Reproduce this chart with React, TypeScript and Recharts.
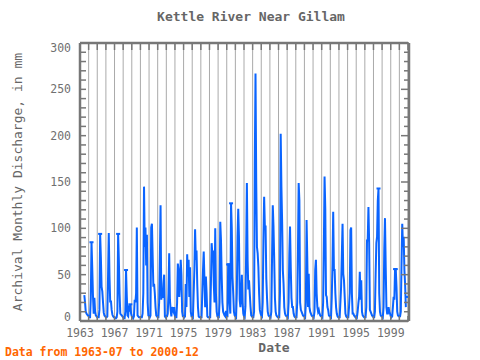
import React from 'react';
import { LineChart, Line, XAxis, YAxis, CartesianGrid } from 'recharts';

// Monthly archival discharge (mm), series starts 1963-07
const startYear = 1963;
const startMonth = 7;
const v1963 = [28, 20, 10, 8, 7, 6];
const v1964 = [5, 4, 4, 25, 85, 58, 28, 8, 25, 10, 6, 5];
const v1965 = [4, 4, 4, 12, 94, 69, 37, 32, 20, 9, 6, 5];
const v1966 = [4, 4, 5, 48, 95, 48, 20, 22, 12, 7, 5, 4];
const v1967 = [4, 3, 3, 4, 10, 94, 66, 30, 8, 7, 6, 5];
const v1968 = [4, 3, 3, 10, 55, 28, 6, 5, 17, 10, 18, 8];
const v1969 = [5, 4, 3, 5, 23, 20, 30, 101, 6, 5, 4, 4];
const v1970 = [4, 4, 4, 8, 30, 145, 80, 101, 60, 93, 20, 6];
const v1971 = [5, 4, 6, 101, 105, 70, 37, 40, 30, 15, 6, 5];
const v1972 = [4, 4, 20, 66, 125, 23, 30, 25, 40, 50, 5, 4];
const v1973 = [5, 5, 8, 30, 73, 23, 12, 5, 15, 12, 10, 15];
const v1974 = [5, 4, 4, 20, 62, 55, 26, 40, 66, 50, 10, 5];
const v1975 = [5, 4, 5, 40, 15, 72, 48, 66, 26, 58, 10, 5];
const v1976 = [5, 4, 30, 55, 99, 66, 76, 40, 15, 5, 4, 4];
const v1977 = [4, 4, 30, 55, 75, 45, 15, 48, 30, 5, 4, 4];
const v1978 = [4, 4, 40, 84, 72, 76, 40, 20, 100, 30, 10, 5];
const v1979 = [4, 4, 20, 107, 87, 48, 20, 10, 8, 6, 5, 11];
const v1980 = [5, 5, 61, 61, 20, 8, 127, 100, 48, 30, 10, 6];
const v1981 = [5, 4, 30, 91, 121, 91, 23, 15, 30, 50, 20, 8];
const v1982 = [5, 4, 16, 75, 149, 66, 34, 44, 30, 16, 6, 5];
const v1983 = [4, 4, 10, 168, 267, 149, 80, 73, 58, 30, 12, 8];
const v1984 = [6, 5, 20, 87, 134, 102, 102, 46, 25, 10, 6, 5];
const v1985 = [5, 4, 10, 69, 125, 102, 66, 25, 10, 6, 5, 4];
const v1986 = [4, 4, 30, 202, 145, 107, 55, 40, 15, 8, 6, 5];
const v1987 = [5, 4, 20, 71, 102, 58, 25, 15, 15, 8, 5, 4];
const v1988 = [4, 4, 20, 75, 149, 130, 20, 12, 10, 8, 6, 5];
const v1989 = [5, 4, 20, 109, 66, 15, 51, 15, 10, 8, 6, 5];
const v1990 = [5, 4, 10, 55, 66, 30, 15, 10, 12, 8, 6, 5];
const v1991 = [5, 4, 20, 80, 156, 121, 28, 26, 15, 12, 6, 5];
const v1992 = [5, 4, 25, 60, 118, 55, 55, 30, 15, 8, 5, 4];
const v1993 = [4, 4, 20, 37, 71, 105, 51, 44, 26, 8, 5, 4];
const v1994 = [4, 4, 15, 30, 98, 101, 30, 8, 8, 6, 5, 4];
const v1995 = [5, 4, 10, 19, 26, 53, 23, 44, 10, 6, 5, 4];
const v1996 = [4, 4, 15, 87, 87, 123, 84, 12, 10, 8, 6, 5];
const v1997 = [4, 4, 10, 51, 84, 91, 130, 143, 30, 10, 6, 5];
const v1998 = [5, 4, 15, 77, 111, 59, 15, 8, 8, 15, 10, 8];
const v1999 = [5, 4, 5, 15, 26, 23, 56, 56, 37, 10, 6, 5];
const v2000 = [5, 5, 10, 62, 105, 80, 91, 55, 39, 15, null, 26];

const yearly: (number | null)[][] = [
  v1963, v1964, v1965, v1966, v1967, v1968, v1969, v1970, v1971, v1972,
  v1973, v1974, v1975, v1976, v1977, v1978, v1979, v1980, v1981, v1982,
  v1983, v1984, v1985, v1986, v1987, v1988, v1989, v1990, v1991, v1992,
  v1993, v1994, v1995, v1996, v1997, v1998, v1999, v2000,
];

// months drawn with a point marker in the reference
const markedMonths = [
  '1964-05', '1965-05', '1967-06', '1968-05', '1968-11',
  '1980-03', '1980-04', '1980-07', '1997-08', '1999-07', '1999-08', '2000-12',
];

const labelYears = [1963, 1967, 1971, 1975, 1979, 1983, 1987, 1991, 1995, 1999];
const gridYears = Array.from({ length: 39 }, (_, k) => 1963 + k);
const yTicks = Array.from({ length: 31 }, (_, k) => k * 10);
const yLabels = [0, 50, 100, 150, 200, 250, 300];
const yGrid = [50, 100, 150, 200, 250];

type Row = { t: number; v: number | null; flag: boolean };
const data: Row[] = [];
yearly.forEach((vals, k) => {
  const year = startYear + k;
  const m0 = k === 0 ? startMonth : 1;
  vals.forEach((v, j) => {
    const month = m0 + j;
    const key = `${year}-${String(month).padStart(2, '0')}`;
    data.push({ t: year + (month - 1) / 12, v, flag: markedMonths.includes(key) });
  });
});

const axisColor = '#777777';
const gridColor = '#aaaaaa';
const lineColor = '#0a64ff';
const textColor = '#707070';
const mono = '"DejaVu Sans Mono", "Liberation Mono", monospace';

const BottomTick = (props: any) => {
  const { x, y, payload } = props;
  const yr = payload.value;
  return (
    <g>
      <line x1={x} x2={x} y1={y} y2={y - 5} stroke={axisColor} strokeWidth={1.5} />
      {labelYears.includes(yr) && (
        <text x={x} y={y + 16} textAnchor="middle" fill={textColor} fontSize={11.5} fontFamily={mono}>
          {yr}
        </text>
      )}
    </g>
  );
};

const TopTick = (props: any) => {
  const { x, y } = props;
  return <line x1={x} x2={x} y1={y} y2={y + 7} stroke={axisColor} strokeWidth={1.5} />;
};

const LeftTick = (props: any) => {
  const { x, y, payload } = props;
  const v = payload.value;
  let cy = y;
  if (v === 300) cy = y + 4.5;
  if (v === 0) cy = y - 4;
  return (
    <g>
      <line x1={x} x2={x + 6} y1={y} y2={y} stroke={axisColor} strokeWidth={1.5} />
      {yLabels.includes(v) && (
        <text x={x - 9} y={cy + 4} textAnchor="end" fill={textColor} fontSize={11.5} fontFamily={mono}>
          {v}
        </text>
      )}
    </g>
  );
};

const RightTick = (props: any) => {
  const { x, y, payload } = props;
  const len = payload.value % 50 === 0 ? 8 : 5;
  return <line x1={x} x2={x - len} y1={y} y2={y} stroke={axisColor} strokeWidth={1.5} />;
};

const FlagDot = (props: any) => {
  const { cx, cy, payload, index } = props;
  if (!payload || !payload.flag || cx == null || cy == null || payload.v == null) {
    return <g key={`n${index}`} />;
  }
  return (
    <g key={`f${index}`}>
      <rect x={cx - 2} y={cy - 1} width={4} height={2} fill={lineColor} />
    </g>
  );
};

export default function App() {
  return (
    <div style={{ position: 'absolute', left: 0, top: 0, width: 480, height: 360, background: '#fff', overflow: 'hidden' }}>
      <LineChart width={480} height={360} data={data} margin={{ top: 42, right: 70, bottom: 19, left: 0 }}>
        <CartesianGrid stroke={gridColor} strokeWidth={1} yAxisId="g" />
        <XAxis
          dataKey="t"
          type="number"
          domain={[1963, 2001]}
          ticks={gridYears}
          interval={0}
          height={20}
          tickSize={0}
          tickMargin={0}
          tickLine={false}
          tick={<BottomTick />}
          axisLine={{ stroke: axisColor, strokeWidth: 2.5 }}
          allowDataOverflow
        />
        <XAxis
          xAxisId="top"
          orientation="top"
          dataKey="t"
          type="number"
          domain={[1963, 2001]}
          ticks={gridYears}
          interval={0}
          height={1}
          tickSize={0}
          tickMargin={0}
          tickLine={false}
          tick={<TopTick />}
          axisLine={{ stroke: axisColor, strokeWidth: 2.5 }}
          allowDataOverflow
        />
        <YAxis
          type="number"
          domain={[0, 300]}
          ticks={yTicks}
          interval={0}
          width={80}
          tickSize={0}
          tickMargin={0}
          tickLine={false}
          tick={<LeftTick />}
          axisLine={{ stroke: axisColor, strokeWidth: 2.5 }}
          allowDataOverflow
        />
        <YAxis
          yAxisId="r"
          orientation="right"
          type="number"
          domain={[0, 300]}
          ticks={yTicks}
          interval={0}
          width={1}
          tickSize={0}
          tickMargin={0}
          tickLine={false}
          tick={<RightTick />}
          axisLine={{ stroke: axisColor, strokeWidth: 2.5 }}
          allowDataOverflow
        />
        <YAxis
          yAxisId="g"
          orientation="right"
          type="number"
          domain={[0, 300]}
          ticks={yGrid}
          interval={0}
          width={1}
          tick={false}
          tickLine={false}
          axisLine={false}
          allowDataOverflow
        />
        <Line xAxisId="top" yAxisId="r" dataKey="v" stroke="none" dot={false} activeDot={false} isAnimationActive={false} legendType="none" />
        <Line yAxisId="g" dataKey="v" stroke="none" dot={false} activeDot={false} isAnimationActive={false} legendType="none" />
        <Line
          type="linear"
          dataKey="v"
          stroke={lineColor}
          strokeWidth={2}
          dot={FlagDot}
          activeDot={false}
          connectNulls={false}
          isAnimationActive={false}
        />
      </LineChart>
      <div style={{ position: 'absolute', left: 0, width: 502, top: 9, textAlign: 'center', fontFamily: mono, fontSize: 13, color: '#666', fontWeight: 'bold' }}>
        Kettle River Near Gillam
      </div>
      <div
        style={{
          position: 'absolute', left: 18, top: 182, width: 300, marginLeft: -150, marginTop: -9,
          textAlign: 'center', fontFamily: mono, fontSize: 13, color: '#666', transform: 'rotate(-90deg)', lineHeight: '18px',
        }}
      >
        Archival Monthly Discharge, in mm
      </div>
      <div style={{ position: 'absolute', left: 224, width: 100, top: 339, textAlign: 'center', fontFamily: mono, fontSize: 13, color: '#666', fontWeight: 'bold', lineHeight: '18px' }}>
        Date
      </div>
      <div style={{ position: 'absolute', left: 5, top: 344, fontFamily: mono, fontSize: 11.5, color: '#ff6600', fontWeight: 'bold', lineHeight: '16px', whiteSpace: 'nowrap' }}>
        Data from 1963-07 to 2000-12
      </div>
    </div>
  );
}
